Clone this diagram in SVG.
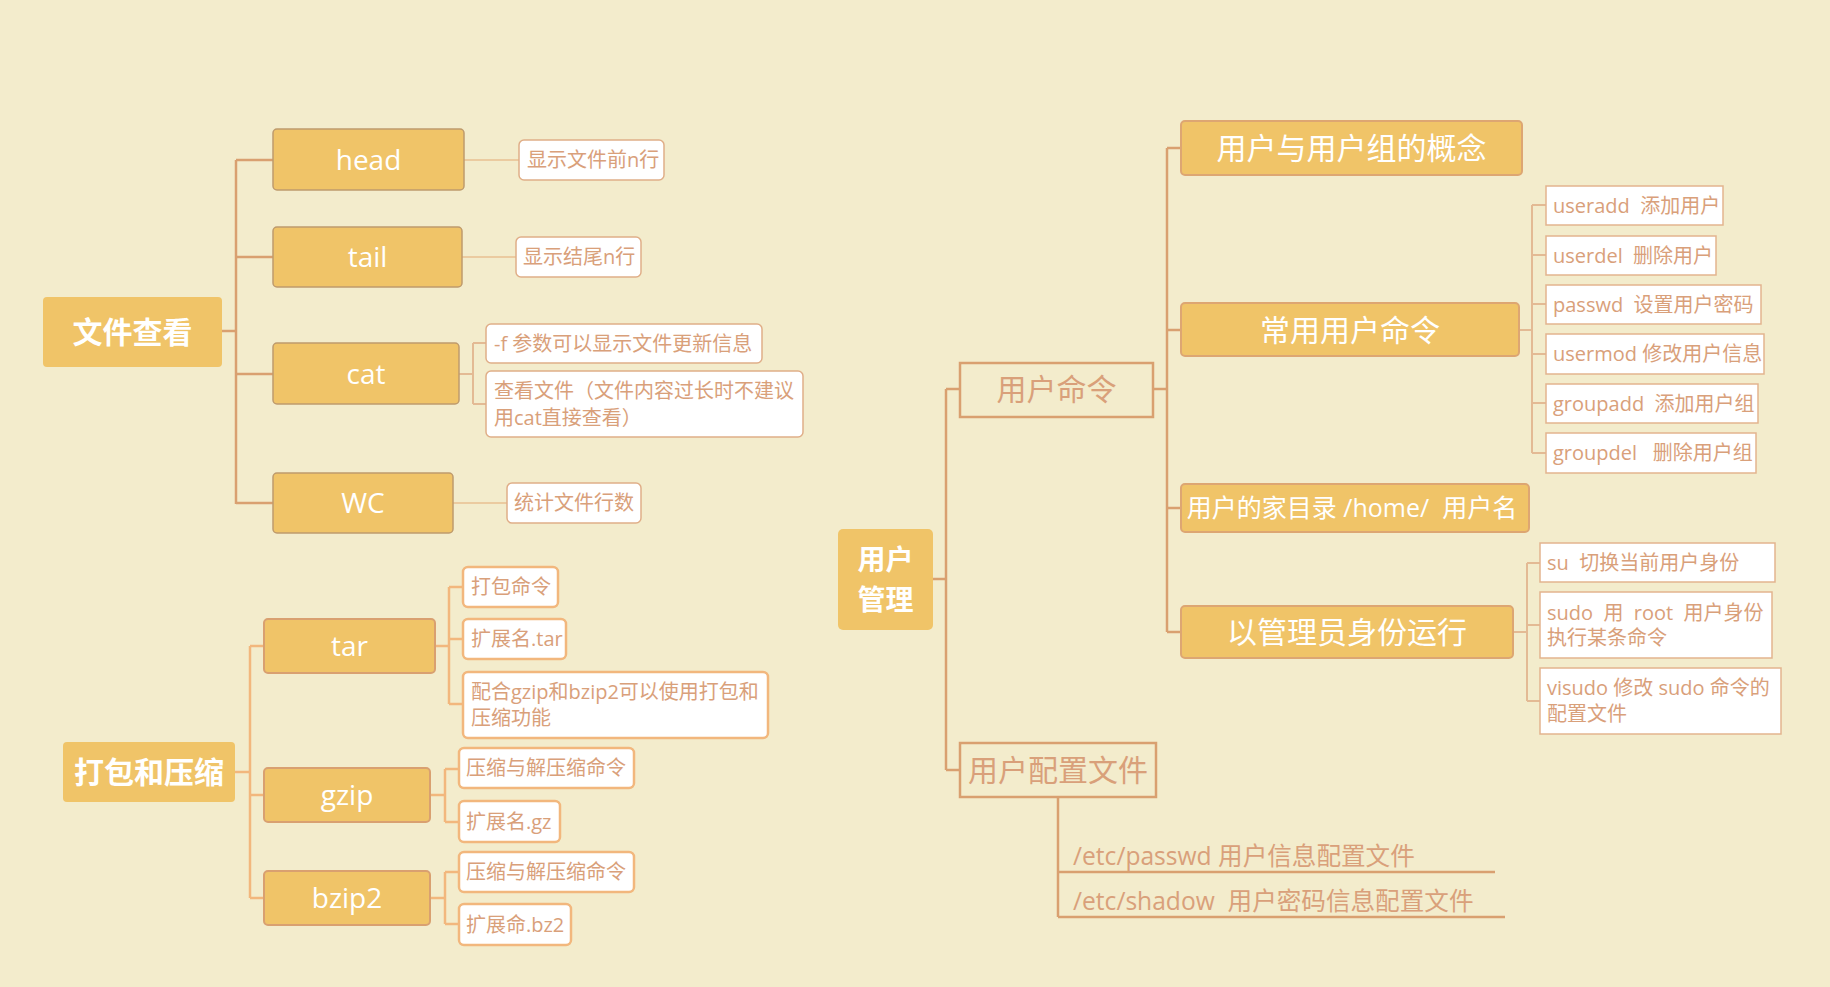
<svg xmlns="http://www.w3.org/2000/svg" width="1830" height="987" viewBox="0 0 1830 987">
<style>
text{font-family:"Open Sans","Noto Sans CJK SC",sans-serif;white-space:pre}
.root{fill:#F0C468}
.rt{fill:#fff;font-size:30px;font-weight:bold;text-anchor:middle}
.n1{fill:#F0C468;stroke:#BE9A6C;stroke-width:1.5}
.n2{fill:#F0C468;stroke:#D9A070;stroke-width:2}
.n3{fill:#F0C468;stroke:#DDA672;stroke-width:2}
.nt{fill:#fff;font-size:28px;text-anchor:middle}
.nt30{fill:#fff;font-size:30px;text-anchor:middle}
.ob{fill:none;stroke:#D9A070;stroke-width:2.5}
.ot{fill:#D9A07A;font-size:30px;text-anchor:middle}
.d1{fill:#fff;stroke:#E0AE88;stroke-width:1.5}
.d2{fill:#fff;stroke:#F2B77D;stroke-width:2.5}
.d3{fill:#fff;stroke:#E3B48E;stroke-width:1.5}
.dt{fill:#D9A07A;font-size:20px}
.ft{fill:#D9A07A;font-size:24.6px}
.c1{fill:none;stroke:#D9A070;stroke-width:2.5}
.c1l{fill:none;stroke:#EBCBA0;stroke-width:2}
.c1m{fill:none;stroke:#E3BA94;stroke-width:2}
.c2{fill:none;stroke:#F2B77D;stroke-width:2.5}
.c3{fill:none;stroke:#D9A070;stroke-width:2.5}
.c3l{fill:none;stroke:#E3BA94;stroke-width:2}
</style>
<rect width="1830" height="987" fill="#F3ECCC"/>

<g id="connectors">
  <!-- 文件查看 -->
  <path class="c1" d="M222,331 H236 M236,160 V504 M236,160 H273 M236,257 H273 M236,374 H273 M236,503 H273"/>
  <path class="c1l" d="M464,160 H519 M462,257 H516 M453,503 H507"/>
  <path class="c1m" d="M459,374 H473 M473,343 V404 M473,343 H486 M473,404 H486"/>
  <!-- 打包和压缩 -->
  <path class="c2" d="M235,772 H250 M250,646 V898 M250,646 H264 M250,795 H264 M250,898 H264"/>
  <path class="c2" d="M435,646 H449 M449,587 V704 M449,587 H463 M449,639 H463 M449,704 H463"/>
  <path class="c2" d="M430,795 H445 M445,769 V822 M445,769 H459 M445,822 H459"/>
  <path class="c2" d="M430,898 H445 M445,872 V924 M445,872 H459 M445,924 H459"/>
  <!-- 用户管理 -->
  <path class="c3" d="M933,579 H946 M946,389 V770 M946,389 H960 M946,770 H960"/>
  <path class="c3" d="M1153,389 H1167 M1167,148 V632 M1167,148 H1181 M1167,330 H1181 M1167,508 H1181 M1167,632 H1181"/>
  <path class="c3l" d="M1519,330 H1532 M1532,205 V453 M1532,205 H1546 M1532,255 H1546 M1532,304 H1546 M1532,354 H1546 M1532,403 H1546 M1532,453 H1546"/>
  <path class="c3l" d="M1513,632 H1527 M1527,563 V701 M1527,563 H1540 M1527,625 H1540 M1527,701 H1540"/>
  <path class="c3" d="M1058,797 V917 M1058,872 H1495 M1058,917 H1505"/>
</g>

<!-- 文件查看 group -->
<g id="wenjianchakan"><rect class="root" x="43" y="297" width="179" height="70" rx="4"/><text class="rt" x="132.5" y="343">文件查看</text></g>
<g id="head"><rect class="n1" x="273" y="129" width="191" height="61" rx="4"/><text class="nt" x="368.5" y="170">head</text></g>
<g id="head-desc"><rect class="d1" x="519" y="140" width="145" height="40" rx="5"/><text class="dt" x="527" y="167">显示文件前n行</text></g>
<g id="tail"><rect class="n1" x="273" y="227" width="189" height="60" rx="4"/><text class="nt" x="367.5" y="267">tail</text></g>
<g id="tail-desc"><rect class="d1" x="516" y="237" width="125" height="40" rx="5"/><text class="dt" x="523" y="264">显示结尾n行</text></g>
<g id="cat"><rect class="n1" x="273" y="343" width="186" height="61" rx="4"/><text class="nt" x="366" y="384">cat</text></g>
<g id="cat-desc1"><rect class="d1" x="486" y="324" width="276" height="39" rx="5"/><text class="dt" x="494" y="351">-f 参数可以显示文件更新信息</text></g>
<g id="cat-desc2"><rect class="d1" x="486" y="371" width="317" height="66" rx="5"/><text class="dt" x="494" y="398">查看文件（文件内容过长时不建议</text><text class="dt" x="494" y="425">用cat直接查看）</text></g>
<g id="wc"><rect class="n1" x="273" y="473" width="180" height="60" rx="4"/><text class="nt" x="363" y="513">WC</text></g>
<g id="wc-desc"><rect class="d1" x="507" y="483" width="134" height="40" rx="5"/><text class="dt" x="514" y="510">统计文件行数</text></g>

<!-- 打包和压缩 group -->
<g id="dabao"><rect class="root" x="63" y="742" width="172" height="60" rx="4"/><text class="rt" x="149" y="783">打包和压缩</text></g>
<g id="tar"><rect class="n2" x="264" y="619" width="171" height="54" rx="4"/><text class="nt" x="349.5" y="656">tar</text></g>
<g id="tar-d1"><rect class="d2" x="463" y="567" width="95" height="40" rx="5"/><text class="dt" x="471" y="594">打包命令</text></g>
<g id="tar-d2"><rect class="d2" x="463" y="619" width="103" height="40" rx="5"/><text class="dt" x="471" y="646">扩展名.tar</text></g>
<g id="tar-d3"><rect class="d2" x="463" y="672" width="305" height="66" rx="5"/><text class="dt" x="471" y="699">配合gzip和bzip2可以使用打包和</text><text class="dt" x="471" y="725">压缩功能</text></g>
<g id="gzip"><rect class="n2" x="264" y="768" width="166" height="54" rx="4"/><text class="nt" x="347" y="805">gzip</text></g>
<g id="gzip-d1"><rect class="d2" x="459" y="748" width="175" height="40" rx="5"/><text class="dt" x="466" y="775">压缩与解压缩命令</text></g>
<g id="gzip-d2"><rect class="d2" x="459" y="801" width="101" height="41" rx="5"/><text class="dt" x="466" y="829">扩展名.gz</text></g>
<g id="bzip2"><rect class="n2" x="264" y="871" width="166" height="54" rx="4"/><text class="nt" x="347" y="908">bzip2</text></g>
<g id="bzip2-d1"><rect class="d2" x="459" y="852" width="175" height="40" rx="5"/><text class="dt" x="466" y="879">压缩与解压缩命令</text></g>
<g id="bzip2-d2"><rect class="d2" x="459" y="904" width="112" height="41" rx="5"/><text class="dt" x="466" y="932">扩展命.bz2</text></g>

<!-- 用户管理 group -->
<g id="yonghuguanli"><rect class="root" x="838" y="529" width="95" height="101" rx="5"/><text class="rt" x="885.5" y="570" style="font-size:28px">用户</text><text class="rt" x="885.5" y="610" style="font-size:28px">管理</text></g>
<g id="yonghumingling"><rect class="ob" x="960" y="363" width="193" height="54"/><text class="ot" x="1056.5" y="400">用户命令</text></g>
<g id="gainian"><rect class="n3" x="1181" y="121" width="341" height="54" rx="4"/><text class="nt30" x="1351.5" y="159">用户与用户组的概念</text></g>
<g id="changyong"><rect class="n3" x="1181" y="303" width="338" height="53" rx="4"/><text class="nt30" x="1350" y="341">常用用户命令</text></g>
<g id="jiamulu"><rect class="n3" x="1181" y="484" width="348" height="48" rx="4"/><text class="nt" x="1352" y="517" style="font-size:25px">用户的家目录 /home/  用户名</text></g>
<g id="guanliyuan"><rect class="n3" x="1181" y="606" width="332" height="52" rx="4"/><text class="nt30" x="1347" y="643">以管理员身份运行</text></g>
<g id="useradd"><rect class="d3" x="1546" y="186" width="177" height="39"/><text class="dt" x="1553" y="213">useradd  添加用户</text></g>
<g id="userdel"><rect class="d3" x="1546" y="236" width="170" height="39"/><text class="dt" x="1553" y="263">userdel  删除用户</text></g>
<g id="passwd"><rect class="d3" x="1546" y="285" width="215" height="39"/><text class="dt" x="1553" y="312">passwd  设置用户密码</text></g>
<g id="usermod"><rect class="d3" x="1546" y="334" width="218" height="40"/><text class="dt" x="1553" y="361">usermod 修改用户信息</text></g>
<g id="groupadd"><rect class="d3" x="1546" y="384" width="212" height="39"/><text class="dt" x="1553" y="411">groupadd  添加用户组</text></g>
<g id="groupdel"><rect class="d3" x="1546" y="433" width="210" height="40"/><text class="dt" x="1553" y="460">groupdel   删除用户组</text></g>
<g id="su"><rect class="d3" x="1540" y="543" width="235" height="39"/><text class="dt" x="1547" y="570">su  切换当前用户身份</text></g>
<g id="sudo"><rect class="d3" x="1540" y="592" width="232" height="66"/><text class="dt" x="1547" y="620">sudo  用  root  用户身份</text><text class="dt" x="1547" y="645">执行某条命令</text></g>
<g id="visudo"><rect class="d3" x="1540" y="668" width="241" height="66"/><text class="dt" x="1547" y="695">visudo 修改 sudo 命令的</text><text class="dt" x="1547" y="721">配置文件</text></g>
<g id="peizhiwenjian"><rect class="ob" x="960" y="743" width="196" height="54"/><text class="ot" x="1058" y="781">用户配置文件</text></g>
<g id="passwd-file"><text class="ft" x="1073" y="865">/etc/passwd 用户信息配置文件</text></g>
<g id="shadow-file"><text class="ft" x="1073" y="910">/etc/shadow  用户密码信息配置文件</text></g>
</svg>
